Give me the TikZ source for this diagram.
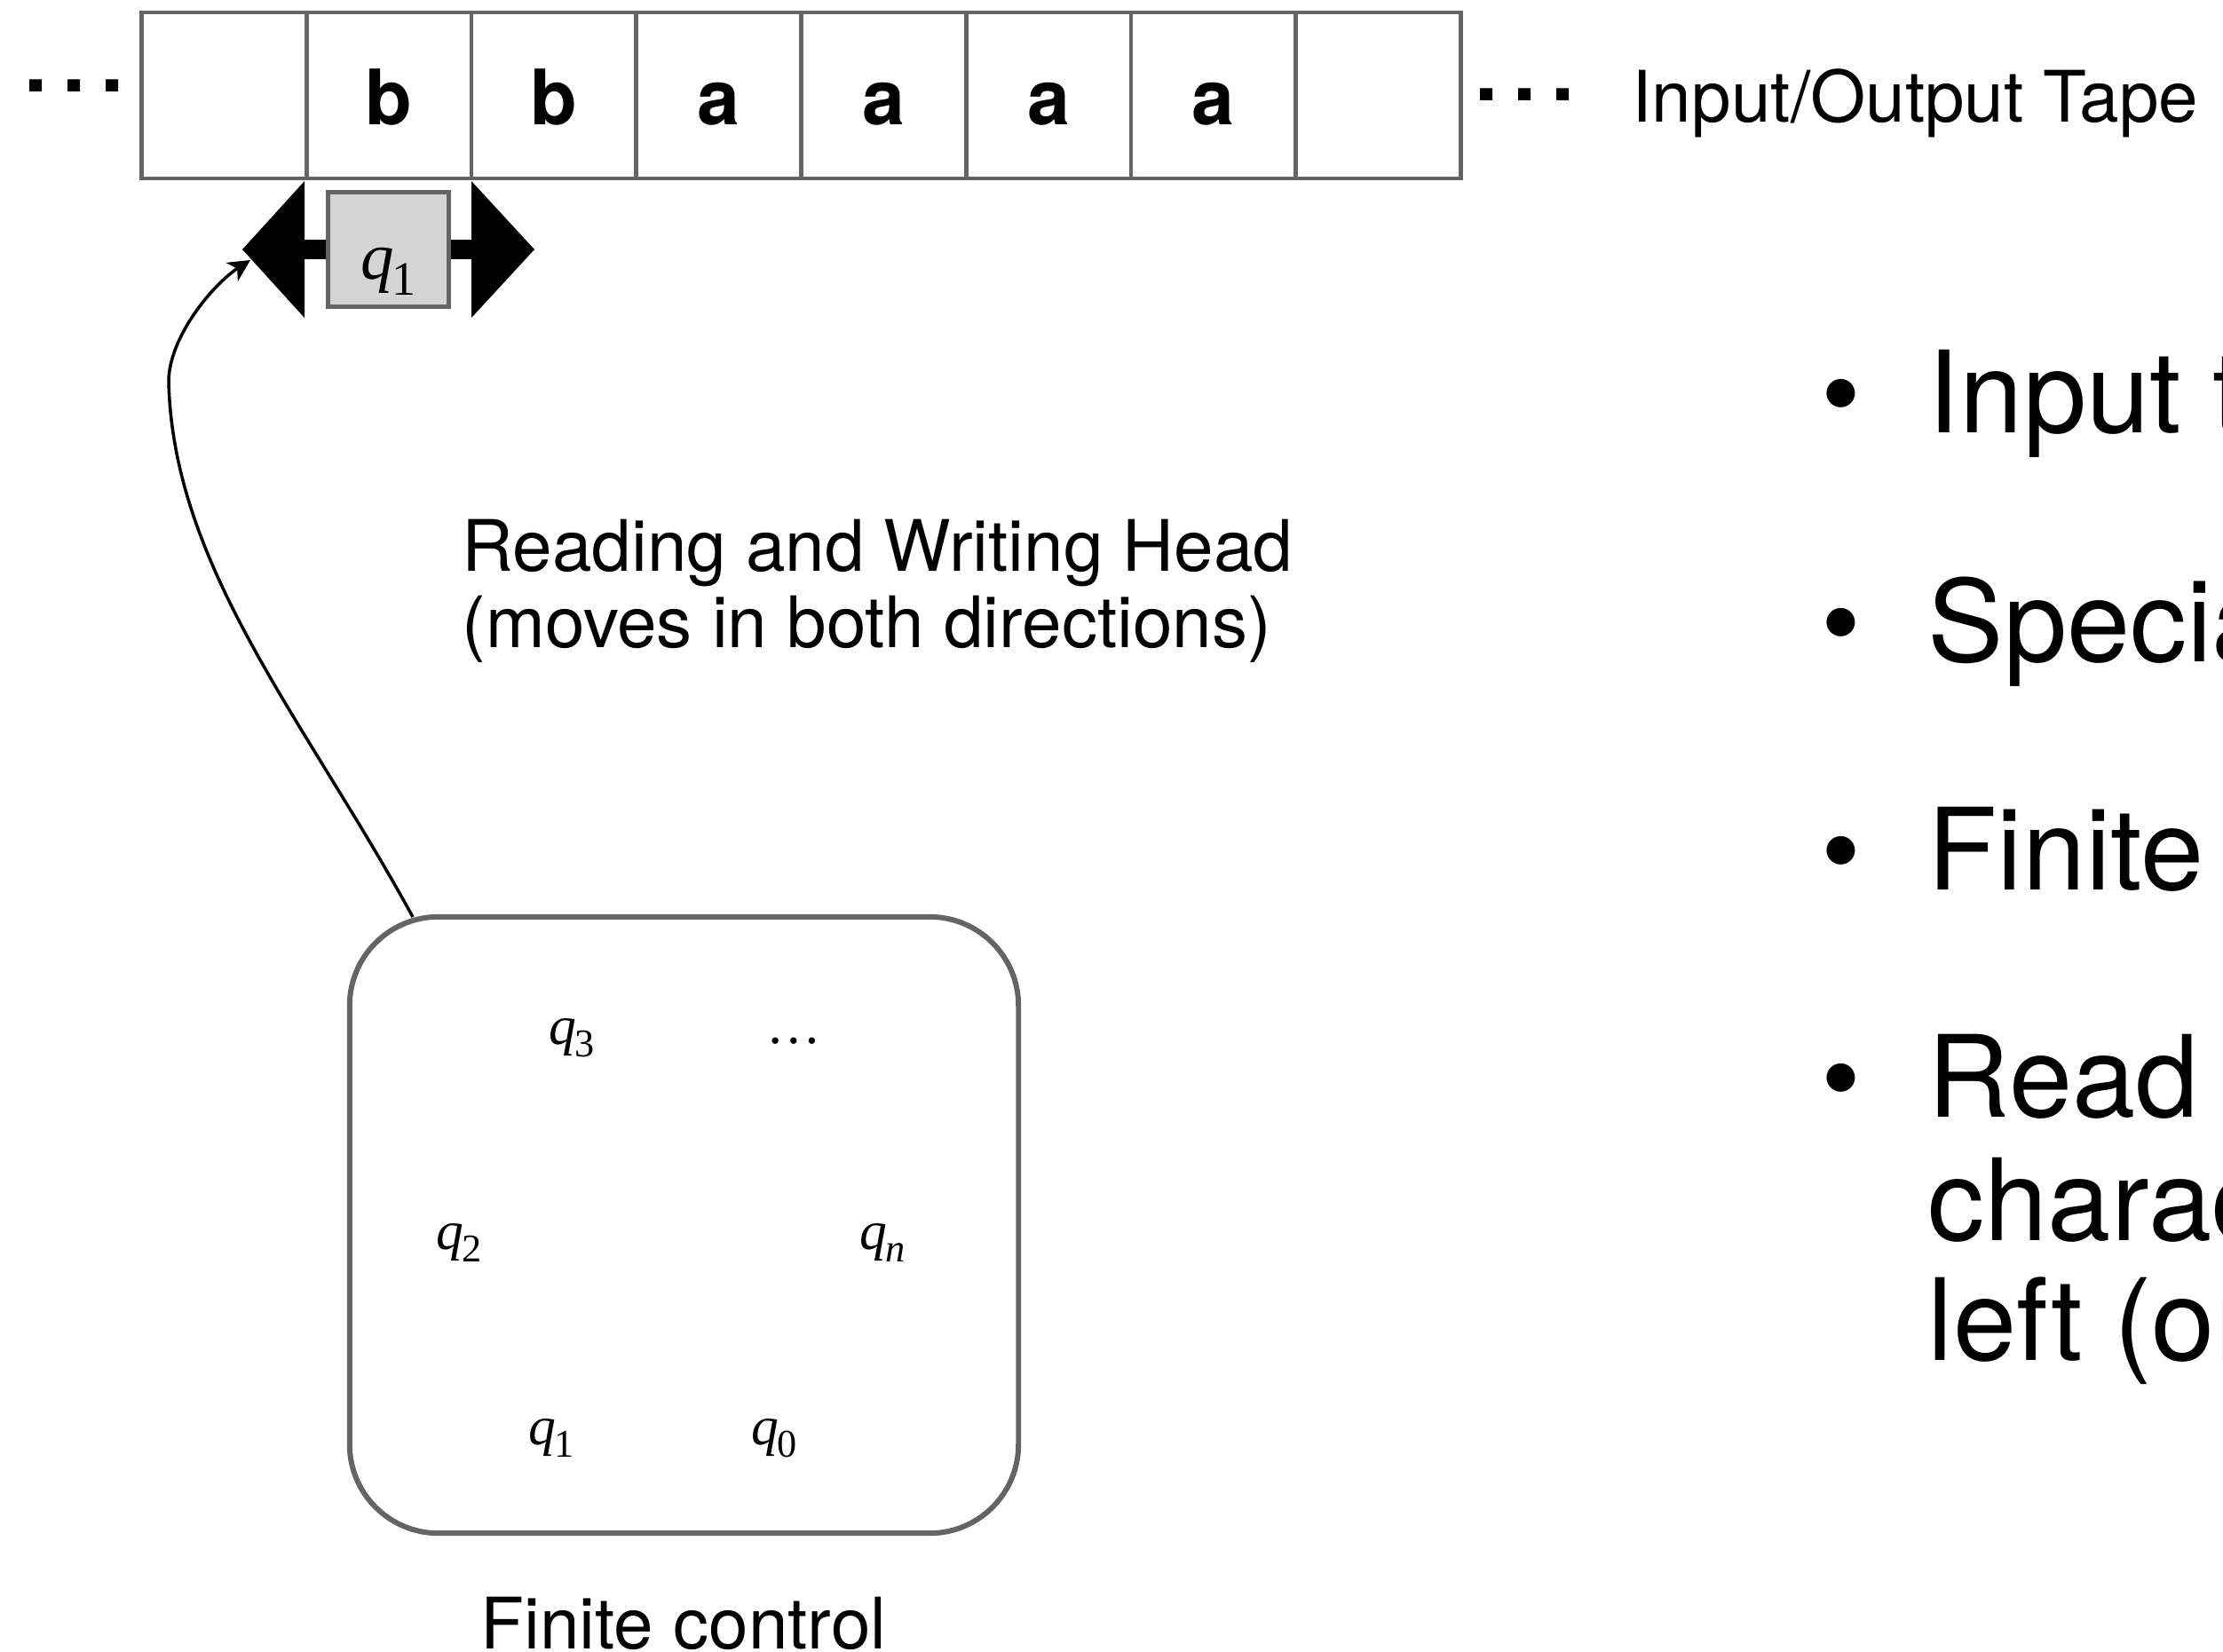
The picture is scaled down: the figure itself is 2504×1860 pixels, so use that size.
\documentclass[tikz,border=0pt]{standalone}
\usepackage{fontspec}
\usepackage{graphicx}
\usetikzlibrary{arrows.meta}
\newfontfamily\hel{TeX Gyre Heros}
\newfontfamily\tms{Liberation Serif}
\definecolor{edgegray}{RGB}{100,100,100}
\definecolor{headfill}{RGB}{212,212,212}
\newcommand\qsub[1]{{\itshape q}\kern-0.03em\raisebox{-0.24em}{\scalebox{0.72}{#1}}}
\begin{document}
\begin{tikzpicture}[x=0.01cm,y=-0.01cm,
  cell/.style={draw=edgegray,line width=1.28pt,minimum width=1.8575cm,minimum height=1.87cm,
    inner sep=0pt,text height=18.5pt,text depth=0pt,font=\hel\bfseries\fontsize{24.5pt}{24.5pt}\selectfont},
  tapedots/.style={anchor=base,inner sep=0pt,font=\hel\bfseries\fontsize{26.7pt}{26.7pt}\selectfont},
  lbl/.style={inner sep=0pt,font=\hel\fontsize{22.76pt}{24.5pt}\selectfont},
  headbox/.style={draw=edgegray,fill=headfill,line width=1.42pt,minimum width=1.36cm,minimum height=1.29cm,
    inner sep=0pt,text height=18.8pt,text depth=0pt,font=\tms\fontsize{21.3pt}{21.3pt}\selectfont},
  ctrl/.style={draw=edgegray,line width=1.7pt,rounded corners=1cm,minimum width=7.53cm,minimum height=6.94cm,inner sep=0pt},
  st/.style={anchor=base,inner sep=0pt,font=\tms\fontsize{17.5pt}{17.5pt}\selectfont},
  bul/.style={inner sep=0pt,font=\hel\fontsize{36.4pt}{39pt}\selectfont},
  arm/.style={line width=1pt,-{Stealth[length=7pt,width=7pt,inset=2pt]}}
]
\useasboundingbox (0,0) rectangle (2504,1860);
\clip (0,0) rectangle (2504,1860);

% tape
\foreach \i/\t in {1/{},2/b,3/b,4/a,5/a,6/a,7/a,8/{}}
  \node[cell] (c\i) at ({159.5+185.75*(\i-0.5)},107.5) {\t};
\node[tapedots] (ldots) at (84,103) {.\kern4.8pt.\kern4.8pt.};
\node[tapedots] (rdots) at (1717.5,113) {.\kern4.8pt.\kern4.8pt.};
\node[lbl,anchor=base west] (tapelbl) at (1838,137) {Input/Output Tape};

% head
\draw[line width=6.26pt] (343,281) -- (531,281);
\fill (273,281) -- (343,204) -- (343,358) -- cycle;
\fill (602,281) -- (531,204) -- (531,358) -- cycle;
\node[headbox] (head) at (437.5,281) {\qsub{1}};

\node[lbl,anchor=base west] (rw1) at (520,643) {Reading and Writing Head};
\node[lbl,anchor=base west] (rw2) at (520,729) {(moves in both directions)};

% finite control
\node[ctrl] (fc) at (770.5,1380) {};
\node[st] (s3) at (644,1176) {\qsub{3}};
\node[st] (sdots) at (894,1175) {…};
\node[st] (s2) at (517,1407) {\qsub{2}};
\node[st] (sn) at (994,1407) {\qsub{\itshape n}};
\node[st] (s1) at (621,1627) {\qsub{1}};
\node[st] (s0) at (872,1627) {\qsub{0}};
\node[lbl,anchor=base] (fclbl) at (770,1857) {Finite control};

% connector
\coordinate (armstart) at (465,1033);
\coordinate (armend) at (282,293);
\draw[arm] (armstart) .. controls (345,813) and (195,640) .. (190,430)
  .. controls (190,380) and (240,320) .. (armend);

% bullets
\foreach \n/\y in {1/487,2/745,3/1002,4/1258}
  \node[bul,anchor=base] (bd\n) at (2074,\y) {•};
\node[bul,anchor=base west] (t1) at (2171,487) {Input tape};
\node[bul,anchor=base west] (t2) at (2171,745) {Special symbols};
\node[bul,anchor=base west] (t3) at (2171,1002) {Finite control};
\node[bul,anchor=base west] (t4) at (2171,1258) {Read and write};
\node[bul,anchor=base west] (t5) at (2171,1397) {character};
\node[bul,anchor=base west] (t6) at (2171,1532) {left (or right)};
\end{tikzpicture}
\end{document}
